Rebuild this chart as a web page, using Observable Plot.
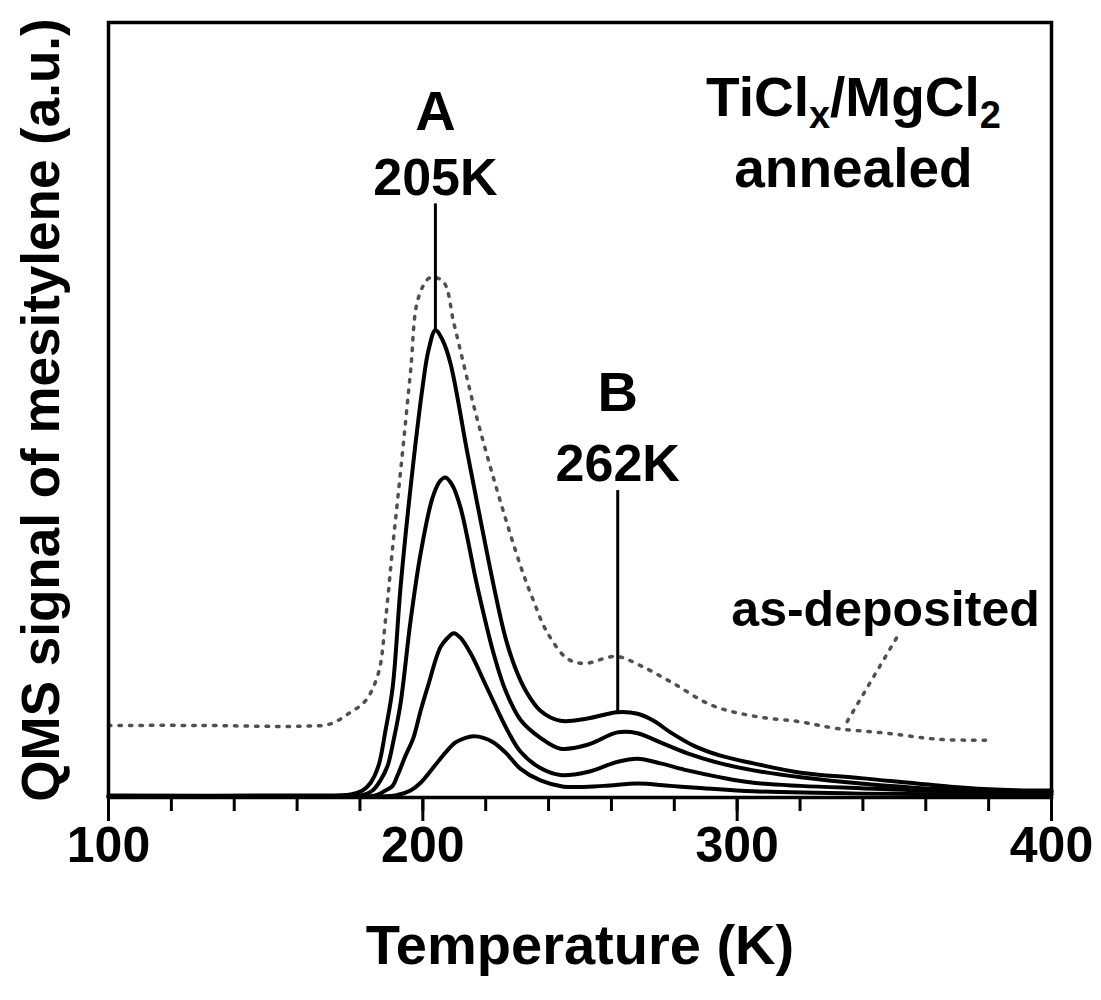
<!DOCTYPE html>
<html>
<head>
<meta charset="utf-8">
<script src="https://cdn.jsdelivr.net/npm/d3@7"></script>
<script src="https://cdn.jsdelivr.net/npm/@observablehq/plot@0.6"></script>
<style>
  html, body { margin: 0; padding: 0; background: #fff; }
  #chart svg { display: block; }
</style>
</head>
<body>
<div id="chart"></div>
<script>
// ---- data ----
const xTicksMajor = [100, 200, 300, 400];
const xTicksMinor = [100,120,140,160,180,200,220,240,260,280,300,320,340,360,380,400];

// annealed series (solid), largest to smallest
const curve1T = [100,161,177,180.8,183.4,185.9,188.1,190.4,192.9,196.1,199.9,201.8,204,206.3,208.8,214.2,218.4,222.5,226.3,229.5,232.7,237.4,243.8,252.4,261.9,268.3,273.4,278.8,286.1,294.7,305.2,320.2,339.3,367.9,383.8,400];
const curve1V = [0.26,0.26,0.39,0.9,1.9,4.1,8.6,14.2,27.1,40.0,52.9,57.7,60.3,59.0,56.0,44.4,35.7,27.4,20.6,16.6,13.8,11.2,9.9,10.2,11.0,10.8,9.9,8.4,6.7,5.4,4.4,3.2,2.5,1.4,1.0,0.9];

const curve2T = [100,161,180.2,184,186.5,188.8,190.7,192.9,196.1,199.3,203.1,205.6,207.2,209.4,212,217.4,222.5,226.3,231.1,237.4,243.8,252.4,261.9,268.3,275.6,284.2,294.7,305.2,320.2,339.3,367.9,400];
const curve2V = [0.13,0.13,0.26,0.9,2.2,4.1,7.4,12.1,22.8,31.5,38.7,40.9,41.3,40.3,37.4,27.1,18.6,13.8,10.0,7.7,6.3,6.8,8.4,8.3,7.1,5.7,4.4,3.5,2.6,1.8,1.0,0.8];

const curve3T = [100,161,184.9,188.1,190.4,191.9,194.5,197,199.3,201.5,205.6,207.9,209.8,212,215.2,220.6,227,231.1,237.4,243.8,252.4,261.9,268.3,275.6,284.2,294.7,305.2,320.2,339.3,367.9,400];
const curve3V = [0.13,0.13,0.26,0.9,1.5,2.8,5.4,7.7,11.2,14.2,19.4,20.6,21.2,20.6,18.6,14.0,8.6,5.9,3.8,2.9,3.3,4.6,5.0,4.4,3.5,2.6,1.9,1.5,1.2,0.8,0.65];

const curve4T = [100,186.5,191.3,196.1,199.3,203.4,207.2,210.4,213.6,216.1,219.3,222.5,226.3,231.1,237.4,244.8,257.5,268.3,278.8,289.3,305.2,339.3,400];
const curve4V = [0.13,0.13,0.26,0.9,1.9,3.9,5.8,7.1,7.7,7.9,7.7,7.1,5.8,3.7,2.2,1.4,1.5,1.8,1.5,1.2,0.8,0.5,0.4];

// as-deposited series (dotted)
const dotT = [100,129.3,161.1,170.6,177,181.8,185.9,188.1,190.4,192,193.9,196.1,198.6,202.4,206.6,209.8,213,216.1,219.3,222.5,225.7,228.9,232,235.2,239.3,246,251.4,261.6,269.3,279.4,291.9,305.2,319.5,331.9,347.5,364.4,380.9];
const dotV = [9.3,9.3,9.2,9.5,11.0,12.5,16.1,22.8,32.3,38.5,46,55,64.5,67.1,66.5,61.3,55.9,50.7,45.8,41.2,36.8,32.6,28.8,25.4,21.5,17.9,17.3,18.2,17.0,14.8,11.9,10.5,9.8,8.9,8.3,7.5,7.4];

// leader from "as-deposited" label to its curve
const leaderT = [335, 351];
const leaderV = [9.8, 20.8];

// peak annotations
const peakNames = ["A", "B"];
const peakLabels = ["205K", "262K"];
const peakT = [204, 262];
const peakNameV = [86.1, 49.9];
const peakLabelV = [77.7, 40.9];
const peakLineTop = [76.6, 39.6];
const peakLineBottom = [60.3, 11.0];

// sample labels
const sampleLabel = "TiClx/MgCl2";
const sampleLabelParts = [["TiCl", false], ["x", true], ["/MgCl", false], ["2", true]];
const sampleT = 337;
const sampleV = [88.0, 78.8];
const sampleTexts = [sampleLabel, "annealed"];
const asDepLabel = "as-deposited";
const asDepT = 347.2;
const asDepV = 22.1;

const xLabel = "Temperature (K)";
const yLabel = "QMS signal of mesitylene (a.u.)";

// ---- tables ----
const toRows = (T, V) => T.map((t, i) => ({t, v: V[i]}));
const solidCurves = [
  toRows(curve1T, curve1V),
  toRows(curve2T, curve2V),
  toRows(curve3T, curve3V),
  toRows(curve4T, curve4V)
];
const dotRows = toRows(dotT, dotV);
const leaderRows = toRows(leaderT, leaderV);
const peaks = peakNames.map((n, i) => ({
  name: n, label: peakLabels[i], t: peakT[i],
  nameV: peakNameV[i], labelV: peakLabelV[i],
  top: peakLineTop[i], bottom: peakLineBottom[i]
}));
const samples = sampleTexts.map((s, i) => ({s, v: sampleV[i]}));

const font = "'Liberation Sans', Arial, Helvetica, sans-serif";

const plot = Plot.plot({
  width: 1101,
  height: 1000,
  marginLeft: 108,
  marginRight: 50,
  marginTop: 22,
  marginBottom: 203,
  style: {fontFamily: font, background: "#fff", color: "#000"},
  x: {domain: [100, 400], label: null},
  y: {domain: [0, 100], axis: null, label: null},
  marks: [
    // dotted as-deposited curve
    Plot.line(dotRows, {x: "t", y: "v", curve: "catmull-rom", stroke: "#505050",
      strokeWidth: 3.5, strokeDasharray: "2.5,8", strokeLinecap: "round"}),
    Plot.line(leaderRows, {x: "t", y: "v", stroke: "#505050",
      strokeWidth: 3.5, strokeDasharray: "2.5,8", strokeLinecap: "round"}),
    // solid annealed curves
    ...solidCurves.map(rows => Plot.line(rows, {x: "t", y: "v", curve: "catmull-rom",
      stroke: "#000", strokeWidth: 4})),
    // peak marker lines
    Plot.ruleX(peaks, {x: "t", y1: "bottom", y2: "top", stroke: "#000", strokeWidth: 3}),
    Plot.text(peaks, {x: "t", y: "nameV", text: "name", lineAnchor: "bottom",
      fontSize: 56, fontWeight: "bold", fill: "#000"}),
    Plot.text(peaks, {x: "t", y: "labelV", text: "label", lineAnchor: "bottom",
      fontSize: 52, fontWeight: "bold", fill: "#000"}),
    // sample labels
    Plot.text(samples, {x: () => sampleT, y: "v", text: "s", lineAnchor: "bottom",
      fontSize: 55, fontWeight: "bold", fill: "#000"}),
    Plot.text([asDepLabel], {x: () => asDepT, y: () => asDepV, text: d => d,
      lineAnchor: "bottom", fontSize: 50, fontWeight: "bold", fill: "#000"}),
    // frame
    Plot.frame({stroke: "#000", strokeWidth: 3.5}),
    // axes
    Plot.axisX({ticks: xTicksMinor, tickSize: 14, tickFormat: () => "", strokeWidth: 3, label: null}),
    Plot.axisX({ticks: xTicksMajor, tickSize: 24, tickPadding: 5, strokeWidth: 3,
      fontSize: 50, fontWeight: "bold", label: null, tickFormat: d => String(d)}),
    // axis titles
    Plot.text([xLabel], {frameAnchor: "bottom", dy: 166, text: d => d, lineAnchor: "bottom",
      textAnchor: "middle", fontSize: 56, fontWeight: "bold", fill: "#000"}),
    Plot.text([yLabel], {frameAnchor: "left", dx: -66, text: d => d, rotate: -90,
      textAnchor: "middle", lineAnchor: "middle", fontSize: 53, fontWeight: "bold", fill: "#000"})
  ]
});

// subscripts for the sample label
const NS = "http://www.w3.org/2000/svg";
plot.querySelectorAll("text").forEach(t => {
  if (t.textContent === sampleLabel) {
    while (t.firstChild) t.removeChild(t.firstChild);
    let shifted = false;
    sampleLabelParts.forEach(([s, sub]) => {
      const ts = document.createElementNS(NS, "tspan");
      ts.textContent = s;
      if (sub) {
        ts.setAttribute("font-size", "38");
        ts.setAttribute("dy", shifted ? "0" : "12");
        shifted = true;
      } else if (shifted) {
        ts.setAttribute("dy", "-12");
        shifted = false;
      }
      t.appendChild(ts);
    });
  }
});

document.getElementById("chart").appendChild(plot);
</script>
</body>
</html>
